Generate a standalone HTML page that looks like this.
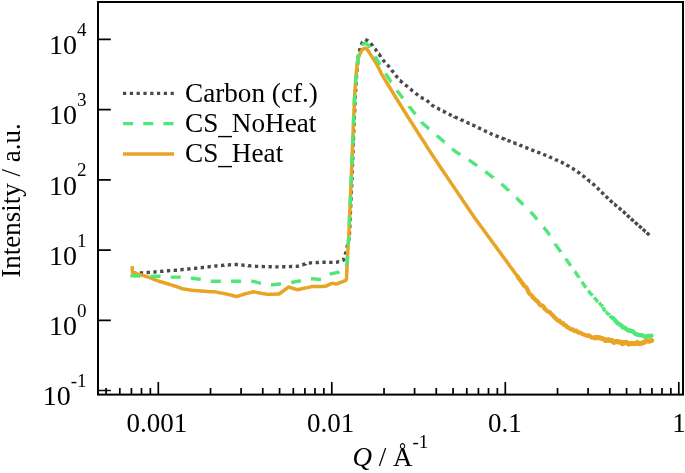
<!DOCTYPE html>
<html><head><meta charset="utf-8"><style>
html,body{margin:0;padding:0;background:#fff;width:685px;height:473px;overflow:hidden}
svg{display:block;will-change:transform}
text{font-family:"Liberation Serif", serif;fill:#000}
</style></head><body>
<svg width="685" height="473" viewBox="0 0 685 473">
<rect x="98" y="2" width="585" height="392.6" fill="none" stroke="#000" stroke-width="2.0"/>
<path d="M106.07 394.6V388.00 M119.81 394.6V388.00 M131.42 394.6V388.00 M141.49 394.6V388.00 M150.36 394.6V388.00 M158.30 394.6V382.00 M210.53 394.6V388.00 M241.08 394.6V388.00 M262.76 394.6V388.00 M279.57 394.6V388.00 M293.31 394.6V388.00 M304.92 394.6V388.00 M314.99 394.6V388.00 M323.86 394.6V388.00 M331.80 394.6V382.00 M384.03 394.6V388.00 M414.58 394.6V388.00 M436.26 394.6V388.00 M453.07 394.6V388.00 M466.81 394.6V388.00 M478.42 394.6V388.00 M488.49 394.6V388.00 M497.36 394.6V388.00 M505.30 394.6V382.00 M557.53 394.6V388.00 M588.08 394.6V388.00 M609.76 394.6V388.00 M626.57 394.6V388.00 M640.31 394.6V388.00 M651.92 394.6V388.00 M661.99 394.6V388.00 M670.86 394.6V388.00 M678.80 394.6V382.00 M98 390.50H110.80 M98 320.28H110.80 M98 250.06H110.80 M98 179.84H110.80 M98 109.62H110.80 M98 39.40H110.80" stroke="#000" stroke-width="1.7" fill="none"/>
<text x="86.5" y="405.3" text-anchor="end" font-size="28">10<tspan font-size="19" dy="-18.3">-1</tspan></text>
<text x="86.5" y="335.1" text-anchor="end" font-size="28">10<tspan font-size="19" dy="-18.3">0</tspan></text>
<text x="86.5" y="264.9" text-anchor="end" font-size="28">10<tspan font-size="19" dy="-18.3">1</tspan></text>
<text x="86.5" y="194.6" text-anchor="end" font-size="28">10<tspan font-size="19" dy="-18.3">2</tspan></text>
<text x="86.5" y="124.4" text-anchor="end" font-size="28">10<tspan font-size="19" dy="-18.3">3</tspan></text>
<text x="86.5" y="54.2" text-anchor="end" font-size="28">10<tspan font-size="19" dy="-18.3">4</tspan></text>
<text x="156.8" y="431.8" text-anchor="middle" font-size="27">0.001</text>
<text x="330.6" y="431.8" text-anchor="middle" font-size="27">0.01</text>
<text x="504.8" y="431.8" text-anchor="middle" font-size="27">0.1</text>
<text x="679.0" y="431.8" text-anchor="middle" font-size="27">1</text>
<text x="352.4" y="465.9" font-size="27"><tspan font-style="italic">Q</tspan> / Å<tspan font-size="19" dy="-18">-1</tspan></text>
<text transform="translate(20.3 277.8) rotate(-90)" x="0" y="0" font-size="27">Intensity / a.u.</text>
<path d="M123 93.4H174" stroke="#4a4a4a" stroke-width="3.2" stroke-dasharray="3.2 3.6"/>
<path d="M123 123.6H174" stroke="#4fe878" stroke-width="3.3" stroke-dasharray="10.1 10.1"/>
<path d="M123 154H174" stroke="#e8a424" stroke-width="3.5"/>
<text x="185" y="101.9" font-size="27.2">Carbon (cf.)</text>
<text x="185" y="131.7" font-size="27.2">CS<tspan dy="2.5">_</tspan><tspan dy="-2.5">NoHeat</tspan></text>
<text x="185" y="161.6" font-size="27.2">CS<tspan dy="2.5">_</tspan><tspan dy="-2.5">Heat</tspan></text>
<path d="M133.0 273.4 L133.1 273.4 L133.6 273.4 L134.1 273.3 L134.6 273.3 L135.1 273.3 L135.7 273.2 L136.2 273.2 L136.3 273.2 M139.8 273.0 L140.3 273.0 L140.8 273.0 L141.3 272.9 L141.8 272.9 L142.3 272.9 L142.8 272.8 L143.1 272.8 M146.6 272.6 L146.8 272.6 L147.3 272.5 L147.8 272.5 L148.3 272.4 L148.8 272.4 L149.3 272.4 L149.8 272.3 L149.9 272.3 M153.4 272.1 L153.8 272.1 L154.3 272.0 L154.8 272.0 L155.3 271.9 L155.8 271.9 L156.3 271.8 L156.6 271.8 M160.1 271.4 L160.4 271.4 L160.9 271.4 L161.4 271.3 L161.9 271.3 L162.4 271.2 L162.9 271.2 L163.4 271.1 L163.4 271.1 M166.9 270.8 L166.9 270.8 L167.4 270.8 L167.9 270.7 L168.4 270.7 L168.9 270.7 L169.4 270.6 L169.9 270.6 L170.2 270.6 M173.7 270.4 L173.9 270.4 L174.4 270.4 L174.9 270.3 L175.4 270.3 L175.9 270.2 L176.4 270.2 L176.9 270.1 L177.0 270.1 M180.4 269.8 L180.5 269.8 L181.0 269.7 L181.5 269.7 L182.0 269.6 L182.5 269.5 L183.0 269.5 L183.5 269.4 L183.7 269.4 M187.2 269.0 L187.5 269.0 L188.0 269.0 L188.5 268.9 L189.0 268.9 L189.5 268.8 L190.0 268.8 L190.5 268.7 M194.0 268.4 L194.0 268.4 L194.5 268.4 L195.0 268.3 L195.5 268.3 L196.0 268.2 L196.5 268.2 L197.0 268.1 L197.3 268.1 M200.7 267.7 L201.1 267.7 L201.6 267.7 L202.1 267.6 L202.6 267.5 L203.1 267.5 L203.6 267.4 L204.0 267.4 M207.5 266.9 L207.7 266.9 L208.2 266.8 L208.7 266.8 L209.2 266.7 L209.7 266.6 L210.2 266.6 L210.7 266.5 L210.8 266.5 M214.3 266.2 L214.3 266.2 L214.8 266.1 L215.3 266.1 L215.9 266.0 L216.4 266.0 L216.9 265.9 L217.4 265.9 L217.5 265.9 M221.0 265.5 L221.5 265.5 L222.0 265.4 L222.5 265.4 L223.0 265.3 L223.5 265.3 L224.0 265.3 L224.3 265.2 M227.8 265.0 L228.0 265.0 L228.5 264.9 L229.1 264.9 L229.6 264.9 L230.1 264.8 L230.6 264.8 L231.1 264.8 L231.1 264.8 M234.6 264.5 L234.6 264.5 L235.1 264.5 L235.6 264.4 L236.1 264.4 L236.6 264.5 L237.1 264.5 L237.6 264.6 L237.9 264.6 M241.3 265.0 L241.6 265.0 L242.1 265.1 L242.6 265.1 L243.1 265.2 L243.6 265.2 L244.1 265.3 L244.6 265.3 M248.1 265.6 L248.3 265.7 L248.8 265.7 L249.3 265.8 L249.8 265.8 L250.3 265.8 L250.8 265.9 L251.3 265.9 L251.4 265.9 M254.9 266.3 L255.0 266.3 L255.5 266.3 L256.0 266.4 L256.5 266.4 L257.0 266.4 L257.5 266.4 L258.0 266.4 L258.2 266.4 M261.7 266.5 L262.1 266.5 L262.6 266.5 L263.1 266.6 L263.6 266.6 L264.1 266.6 L264.6 266.6 L265.0 266.6 M268.5 266.7 L268.7 266.7 L269.2 266.7 L269.7 266.7 L270.2 266.7 L270.7 266.7 L271.2 266.8 L271.7 266.8 L271.8 266.8 M275.3 266.9 L275.8 266.9 L276.3 266.9 L276.8 266.9 L277.3 266.9 L277.8 266.9 L278.3 266.9 L278.6 266.9 M282.1 266.8 L282.4 266.8 L282.9 266.8 L283.4 266.7 L283.9 266.7 L284.4 266.7 L284.9 266.7 L285.4 266.7 M288.9 266.6 L289.0 266.6 L289.5 266.6 L290.0 266.6 L290.5 266.6 L291.0 266.5 L291.5 266.5 L292.0 266.5 L292.2 266.5 M295.7 266.4 L296.1 266.4 L296.6 266.4 L297.1 266.3 L297.6 266.1 L298.1 266.0 L298.6 265.9 L298.9 265.8 M302.3 264.8 L302.5 264.8 L302.9 264.6 L303.4 264.5 L303.9 264.4 L304.4 264.2 L304.9 264.1 L305.4 264.0 L305.4 263.9 M308.8 263.0 L309.3 263.0 L309.8 262.9 L310.3 262.9 L310.8 262.9 L311.3 262.9 L311.8 262.8 L312.1 262.8 M315.6 262.6 L315.9 262.6 L316.4 262.6 L316.9 262.5 L317.4 262.5 L317.9 262.5 L318.4 262.5 L318.9 262.4 L318.9 262.4 M322.4 262.2 L322.4 262.2 L322.9 262.2 L323.4 262.2 L323.9 262.2 L324.4 262.2 L324.9 262.2 L325.4 262.3 L325.7 262.3 M329.2 262.4 L329.5 262.4 L330.0 262.4 L330.5 262.4 L331.0 262.4 L331.5 262.4 L332.1 262.4 L332.5 262.4 M336.0 262.3 L336.1 262.3 L336.6 262.2 L337.1 262.1 L337.6 262.0 L338.1 261.9 L338.5 261.8 L339.0 261.7 L339.2 261.7 M342.5 260.5 L342.5 260.5 L343.0 260.3 L343.5 260.0 L343.7 259.5 L343.8 259.0 L344.0 258.5 L344.2 258.0 L344.2 258.0 M345.3 254.6 L345.3 254.5 L345.4 254.0 L345.6 253.5 L345.7 253.0 L345.8 252.5 L345.9 252.0 L346.0 251.5 L346.0 251.4 M346.8 248.0 L346.8 248.0 L347.0 247.5 L347.1 247.0 L347.2 246.5 L347.3 246.0 L347.4 245.5 L347.5 245.0 L347.6 244.8 M348.4 241.4 L348.5 241.0 L348.6 240.5 L348.7 240.0 L348.8 239.5 L348.9 239.0 L349.1 238.5 L349.1 238.2 M349.4 234.7 L349.4 234.5 L349.5 234.0 L349.5 233.5 L349.5 233.0 L349.5 232.5 L349.5 232.0 L349.6 231.5 L349.6 231.4 M349.7 227.9 L349.8 227.5 L349.8 227.0 L349.8 226.5 L349.8 226.0 L349.8 225.5 L349.9 225.0 L349.9 224.6 M350.0 221.1 L350.0 221.0 L350.1 220.5 L350.1 220.0 L350.1 219.5 L350.1 219.0 L350.2 218.5 L350.2 218.0 L350.2 217.8 M350.3 214.3 L350.4 214.0 L350.4 213.5 L350.4 213.0 L350.4 212.5 L350.4 212.0 L350.5 211.5 L350.5 211.0 M350.6 207.5 L350.6 207.5 L350.7 207.0 L350.7 206.5 L350.7 206.0 L350.7 205.5 L350.8 205.0 L350.8 204.5 L350.8 204.2 M351.0 200.8 L351.0 200.5 L351.0 200.0 L351.0 199.5 L351.0 199.0 L351.1 198.5 L351.1 198.0 L351.1 197.5 L351.1 197.5 M351.3 194.0 L351.3 193.5 L351.3 193.0 L351.3 192.5 L351.3 192.0 L351.4 191.5 L351.4 191.0 L351.4 190.7 M351.6 187.2 L351.6 187.0 L351.6 186.5 L351.6 186.0 L351.6 185.5 L351.7 185.0 L351.7 184.5 L351.7 184.0 L351.7 183.9 M351.9 180.4 L351.9 180.0 L351.9 179.5 L351.9 179.0 L352.0 178.5 L352.0 178.0 L352.0 177.5 L352.0 177.1 M352.2 173.6 L352.2 173.5 L352.2 173.0 L352.2 172.5 L352.2 172.0 L352.2 171.5 L352.2 171.0 L352.3 170.5 L352.3 170.3 M352.4 166.8 L352.4 166.5 L352.4 166.0 L352.5 165.5 L352.5 165.0 L352.5 164.5 L352.5 164.0 L352.5 163.5 L352.5 163.5 M352.7 160.0 L352.7 159.5 L352.7 159.0 L352.7 158.5 L352.7 158.0 L352.8 157.5 L352.8 157.0 L352.8 156.7 M352.9 153.2 L352.9 153.0 L353.0 152.5 L353.0 152.0 L353.0 151.5 L353.0 151.0 L353.0 150.5 L353.1 150.0 L353.1 149.9 M353.2 146.4 L353.2 146.0 L353.2 145.5 L353.2 145.0 L353.3 144.5 L353.3 144.0 L353.3 143.5 L353.3 143.1 M353.4 139.6 L353.5 139.5 L353.5 139.0 L353.5 138.5 L353.5 138.0 L353.5 137.5 L353.5 137.0 L353.6 136.5 L353.6 136.3 M353.7 132.8 L353.7 132.5 L353.7 132.0 L353.8 131.5 L353.8 131.0 L353.8 130.5 L353.8 130.0 L353.8 129.5 M354.0 126.0 L354.0 126.0 L354.0 125.5 L354.0 125.0 L354.0 124.5 L354.0 124.0 L354.1 123.5 L354.1 123.0 L354.1 122.7 M354.2 119.2 L354.2 119.0 L354.3 118.5 L354.3 118.0 L354.3 117.5 L354.3 117.0 L354.4 116.5 L354.4 116.0 L354.4 115.9 M354.6 112.4 L354.6 112.0 L354.6 111.5 L354.6 111.0 L354.6 110.5 L354.7 110.0 L354.7 109.5 L354.7 109.1 M354.9 105.6 L354.9 105.5 L354.9 105.0 L354.9 104.5 L354.9 104.0 L355.0 103.5 L355.0 103.0 L355.0 102.5 L355.0 102.3 M355.2 98.8 L355.2 98.5 L355.2 98.0 L355.2 97.5 L355.3 97.0 L355.3 96.5 L355.3 96.0 L355.3 95.5 M355.5 92.0 L355.5 92.0 L355.5 91.5 L355.6 91.0 L355.6 90.5 L355.6 90.0 L355.6 89.5 L355.7 89.0 L355.7 88.8 M355.9 85.3 L356.0 85.0 L356.0 84.5 L356.0 84.0 L356.1 83.5 L356.1 83.0 L356.1 82.5 L356.2 82.0 L356.2 82.0 M356.4 78.5 L356.4 78.0 L356.5 77.5 L356.5 77.0 L356.5 76.5 L356.6 76.0 L356.6 75.5 L356.6 75.2 M356.9 71.7 L356.9 71.5 L356.9 71.0 L357.0 70.5 L357.0 70.0 L357.1 69.5 L357.1 69.0 L357.1 68.5 L357.2 68.4 M357.5 64.9 L357.6 64.5 L357.6 64.0 L357.6 63.5 L357.7 63.0 L357.8 62.5 L357.8 62.0 L357.8 61.6 M358.2 58.2 L358.2 58.0 L358.2 57.5 L358.3 57.0 L358.3 56.5 L358.4 56.0 L358.5 55.5 L358.6 55.0 L358.6 54.9 M359.4 51.5 L359.5 51.0 L359.6 50.5 L359.7 50.0 L359.8 49.5 L359.9 49.0 L360.1 48.5 L360.1 48.3 M361.2 44.9 L361.4 44.5 L361.6 44.0 L361.8 43.5 L362.1 43.0 L362.3 42.5 L362.5 42.0 L362.6 41.9 M365.1 39.6 L365.6 39.8 L366.1 40.0 L366.6 40.2 L367.0 40.4 L367.5 40.6 L368.0 40.8 L368.1 40.9 M370.7 43.3 L371.0 43.7 L371.3 44.1 L371.6 44.5 L371.9 44.9 L372.3 45.3 L372.6 45.7 L372.7 45.9 M374.9 48.7 L375.1 48.9 L375.4 49.3 L375.7 49.7 L376.0 50.1 L376.3 50.5 L376.6 50.9 L376.9 51.3 M379.0 54.1 L379.1 54.1 L379.3 54.5 L379.6 55.0 L379.9 55.4 L380.1 55.8 L380.4 56.2 L380.7 56.7 L380.8 56.9 M382.8 59.7 L383.0 60.0 L383.3 60.4 L383.7 60.8 L384.0 61.2 L384.4 61.5 L384.7 61.9 L385.0 62.2 M387.3 64.8 L387.5 65.0 L387.8 65.4 L388.2 65.8 L388.5 66.2 L388.9 66.6 L389.2 67.0 L389.4 67.3 M391.6 70.0 L391.7 70.2 L392.0 70.6 L392.3 71.0 L392.6 71.3 L392.9 71.7 L393.2 72.1 L393.5 72.5 L393.6 72.6 M395.7 75.3 L396.0 75.7 L396.4 76.1 L396.7 76.6 L397.0 77.0 L397.3 77.4 L397.7 77.8 L397.8 77.9 M399.9 80.6 L400.0 80.6 L400.4 80.9 L400.8 81.3 L401.2 81.6 L401.6 81.9 L402.0 82.2 L402.3 82.5 L402.5 82.7 M405.1 84.8 L405.5 85.1 L405.9 85.4 L406.3 85.7 L406.7 86.0 L407.1 86.4 L407.5 86.7 L407.7 86.9 M410.3 89.0 L410.6 89.2 L411.0 89.6 L411.4 89.9 L411.8 90.3 L412.2 90.6 L412.6 90.9 L412.9 91.1 M415.5 93.3 L415.5 93.3 L415.9 93.6 L416.3 93.9 L416.7 94.2 L417.1 94.5 L417.5 94.8 L417.9 95.1 L418.1 95.3 M420.7 97.3 L421.2 97.5 L421.6 97.7 L422.1 98.0 L422.6 98.2 L423.1 98.4 L423.5 98.6 L423.8 98.7 M426.7 100.2 L426.8 100.3 L427.2 100.6 L427.6 101.0 L427.9 101.4 L428.3 101.7 L428.7 102.1 L429.1 102.5 M431.5 104.7 L431.8 105.0 L432.2 105.4 L432.7 105.7 L433.1 105.9 L433.6 106.2 L434.1 106.4 L434.2 106.5 M437.1 108.1 L437.4 108.2 L437.9 108.5 L438.4 108.7 L438.8 109.0 L439.3 109.2 L439.8 109.5 L440.1 109.6 M443.0 111.1 L443.1 111.1 L443.5 111.4 L444.0 111.6 L444.5 111.8 L444.9 112.1 L445.4 112.3 L445.9 112.6 M448.8 114.1 L449.2 114.3 L449.7 114.6 L450.2 114.8 L450.6 115.0 L451.1 115.2 L451.5 115.4 L451.7 115.5 M454.7 116.8 L454.7 116.9 L455.2 117.1 L455.7 117.3 L456.1 117.5 L456.6 117.7 L457.0 117.9 L457.5 118.1 L457.7 118.2 M460.6 119.5 L460.7 119.6 L461.2 119.8 L461.6 120.0 L462.1 120.2 L462.5 120.4 L463.0 120.6 L463.4 120.8 L463.6 120.9 M466.5 122.2 L466.7 122.3 L467.1 122.5 L467.6 122.7 L468.0 122.9 L468.5 123.1 L468.9 123.3 L469.4 123.5 L469.5 123.5 M472.3 124.9 L472.7 125.0 L473.1 125.3 L473.6 125.5 L474.1 125.7 L474.5 125.9 L475.0 126.1 L475.3 126.3 M478.1 127.6 L478.3 127.7 L478.7 127.9 L479.2 128.1 L479.7 128.3 L480.1 128.5 L480.6 128.8 L481.1 129.0 L481.1 129.0 M483.9 130.4 L484.3 130.6 L484.8 130.8 L485.2 131.0 L485.7 131.2 L486.2 131.5 L486.6 131.7 L486.9 131.8 M489.7 133.2 L489.9 133.3 L490.3 133.5 L490.8 133.7 L491.3 134.0 L491.7 134.2 L492.2 134.4 L492.6 134.6 M495.5 135.7 L496.0 135.9 L496.5 136.0 L496.9 136.2 L497.4 136.4 L497.9 136.6 L498.4 136.8 L498.6 136.9 M501.5 138.0 L501.7 138.1 L502.2 138.2 L502.6 138.4 L503.1 138.6 L503.6 138.8 L504.1 139.0 L504.6 139.1 L504.6 139.2 M507.5 140.3 L507.9 140.4 L508.3 140.6 L508.8 140.8 L509.3 141.0 L509.8 141.2 L510.2 141.3 L510.6 141.5 M513.4 142.6 L513.5 142.6 L514.0 142.8 L514.5 143.0 L514.9 143.2 L515.4 143.4 L515.9 143.6 L516.3 143.8 L516.5 143.8 M519.4 145.0 L519.6 145.1 L520.1 145.3 L520.5 145.4 L521.0 145.6 L521.5 145.8 L521.9 146.0 L522.4 146.2 L522.4 146.2 M525.3 147.4 L525.7 147.5 L526.1 147.7 L526.6 147.9 L527.1 148.1 L527.5 148.3 L528.0 148.4 L528.4 148.6 M531.3 149.7 L531.3 149.7 L531.8 149.9 L532.2 150.1 L532.7 150.3 L533.2 150.5 L533.7 150.6 L534.1 150.8 L534.4 150.9 M537.2 152.0 L537.5 152.1 L537.9 152.3 L538.4 152.5 L538.9 152.7 L539.4 152.8 L539.9 153.0 L540.3 153.2 L540.3 153.2 M543.2 154.3 L543.6 154.5 L544.1 154.7 L544.6 154.8 L545.1 155.0 L545.5 155.2 L546.0 155.4 L546.3 155.5 M549.2 156.7 L549.3 156.8 L549.8 157.0 L550.3 157.2 L550.7 157.4 L551.2 157.7 L551.7 157.9 L552.1 158.1 L552.1 158.1 M555.0 159.4 L555.4 159.6 L555.9 159.8 L556.4 160.0 L556.9 160.2 L557.3 160.4 L557.8 160.6 L558.0 160.7 M560.8 162.0 L561.1 162.1 L561.6 162.4 L562.1 162.6 L562.5 162.9 L563.0 163.1 L563.5 163.3 L563.8 163.5 M566.5 164.9 L566.7 165.1 L567.2 165.3 L567.6 165.6 L568.0 165.8 L568.5 166.1 L568.9 166.3 L569.3 166.6 M572.0 168.2 L572.4 168.4 L572.9 168.7 L573.3 169.0 L573.8 169.2 L574.2 169.5 L574.6 169.8 L574.8 169.9 M577.4 171.6 L577.7 171.8 L578.1 172.2 L578.6 172.5 L579.0 172.8 L579.4 173.1 L579.9 173.4 L580.1 173.6 M582.5 175.4 L582.8 175.6 L583.2 176.0 L583.6 176.3 L584.0 176.6 L584.4 176.9 L584.8 177.2 L585.1 177.5 M587.5 179.4 L587.6 179.5 L588.0 179.8 L588.4 180.2 L588.8 180.5 L589.2 180.8 L589.6 181.1 L590.0 181.5 L590.1 181.5 M592.4 183.5 L592.8 183.8 L593.2 184.2 L593.6 184.5 L594.0 184.8 L594.4 185.2 L594.8 185.5 L595.0 185.7 M597.1 187.7 L597.4 188.0 L597.8 188.4 L598.1 188.7 L598.5 189.1 L598.9 189.5 L599.2 189.8 L599.4 190.0 M601.4 192.0 L601.8 192.4 L602.1 192.7 L602.5 193.1 L602.8 193.4 L603.2 193.8 L603.6 194.2 L603.8 194.4 M605.7 196.2 L605.8 196.3 L606.2 196.6 L606.5 197.0 L606.9 197.3 L607.3 197.7 L607.6 198.0 L608.0 198.4 L608.1 198.5 M610.0 200.2 L610.3 200.5 L610.6 200.8 L611.0 201.2 L611.4 201.5 L611.7 201.9 L612.1 202.2 L612.5 202.6 M614.3 204.2 L614.4 204.2 L614.8 204.5 L615.1 204.9 L615.5 205.2 L615.9 205.5 L616.3 205.8 L616.7 206.1 L616.9 206.3 M618.7 207.8 L619.0 208.0 L619.4 208.3 L619.8 208.7 L620.2 209.0 L620.6 209.3 L621.0 209.6 L621.4 209.9 L621.4 209.9 M623.0 211.3 L623.3 211.5 L623.6 211.9 L624.0 212.2 L624.4 212.6 L624.8 212.9 L625.1 213.3 L625.5 213.6 L625.6 213.7 M627.1 215.1 L627.4 215.4 L627.7 215.7 L628.1 216.1 L628.5 216.4 L628.9 216.8 L629.2 217.1 L629.6 217.5 L629.6 217.5 M631.0 218.8 L631.1 218.9 L631.5 219.2 L631.8 219.6 L632.2 219.9 L632.6 220.2 L633.0 220.6 L633.4 220.9 L633.6 221.1 M635.0 222.3 L635.3 222.6 L635.7 222.9 L636.1 223.3 L636.5 223.6 L636.9 223.9 L637.2 224.3 L637.6 224.6 L637.7 224.7 M638.9 225.8 L639.2 226.0 L639.6 226.3 L640.0 226.7 L640.3 227.0 L640.7 227.3 L641.1 227.7 L641.5 228.0 L641.6 228.1 M642.8 229.2 L643.0 229.4 L643.4 229.7 L643.8 230.1 L644.2 230.4 L644.6 230.8 L644.9 231.1 L645.3 231.5 L645.5 231.6 M646.7 232.7 L646.8 232.8 L647.2 233.2 L647.6 233.5 L648.0 233.9 L648.4 234.2 L648.8 234.6 L649.1 234.9 L649.3 235.1" fill="none" stroke="#4a4a4a" stroke-width="3.4" stroke-linejoin="round"/>
<path d="M132.2 266.2 L132.3 268.2 L132.3 270.3 L132.4 272.3 L134.0 272.8 L135.6 273.3 L137.2 273.8 L138.8 274.3 L140.4 274.8 L142.0 275.2 L143.6 275.7 L145.2 276.2 L146.8 276.7 L148.4 277.2 L150.0 277.7 L151.8 278.4 L153.5 279.1 L155.3 279.8 L157.0 280.5 L158.8 281.2 L160.5 281.7 L162.3 282.2 L164.0 282.8 L165.8 283.3 L167.5 283.8 L169.3 284.3 L171.0 284.9 L172.8 285.4 L174.5 286.0 L176.3 286.5 L178.2 287.1 L180.0 287.8 L181.8 288.5 L183.7 289.1 L185.4 289.3 L187.1 289.5 L188.8 289.8 L190.4 290.0 L192.1 290.2 L193.8 290.4 L195.4 290.5 L197.0 290.7 L198.7 290.8 L200.3 290.9 L201.9 291.0 L203.5 291.2 L205.1 291.3 L206.8 291.4 L208.4 291.6 L210.0 291.7 L211.7 291.7 L213.3 291.8 L215.0 291.8 L216.7 292.1 L218.3 292.5 L220.0 292.8 L221.7 293.1 L223.4 293.4 L225.0 293.8 L226.7 294.1 L228.3 294.5 L230.0 294.9 L231.6 295.3 L233.3 295.7 L234.9 296.1 L236.6 296.5 L238.4 296.0 L240.1 295.4 L241.9 294.9 L243.6 294.3 L245.4 293.8 L247.0 293.4 L248.7 293.0 L250.3 292.6 L252.0 292.2 L253.6 291.8 L255.2 292.1 L256.8 292.4 L258.4 292.7 L260.0 293.0 L261.9 293.4 L263.9 293.7 L265.8 294.0 L267.7 294.4 L269.3 294.3 L270.9 294.3 L272.5 294.2 L274.2 294.2 L275.8 294.1 L277.4 294.1 L279.0 294.0 L280.4 293.0 L281.8 292.0 L283.2 291.0 L284.5 290.0 L285.9 289.0 L287.3 288.0 L288.7 287.0 L290.4 287.5 L292.2 288.1 L293.9 288.6 L295.7 289.2 L297.4 289.7 L299.1 289.3 L300.7 289.0 L302.4 288.6 L304.0 288.3 L305.7 287.9 L307.3 287.6 L309.0 287.2 L310.6 286.9 L312.3 286.5 L313.9 286.5 L315.6 286.4 L317.2 286.4 L318.9 286.4 L320.6 286.4 L322.2 286.4 L323.9 286.3 L325.5 286.3 L327.0 285.6 L328.6 284.9 L330.1 284.2 L331.6 283.5 L333.4 283.6 L335.1 283.8 L336.9 283.9 L338.6 283.2 L340.4 282.5 L342.1 281.9 L343.9 281.2 L345.6 280.5 L346.5 279.0 L346.6 277.3 L346.6 275.5 L346.7 273.8 L346.8 272.1 L346.9 270.4 L346.9 268.6 L347.0 266.9 L347.1 265.2 L347.2 263.5 L347.2 261.7 L347.3 260.0 L347.4 258.4 L347.5 256.8 L347.6 255.2 L347.7 253.6 L347.8 252.0 L347.9 250.4 L348.0 248.8 L348.1 247.1 L348.2 245.5 L348.3 243.9 L348.4 242.3 L348.5 240.7 L348.6 239.1 L348.7 237.5 L348.8 235.9 L348.8 234.3 L348.9 232.6 L349.0 231.0 L349.1 229.4 L349.1 227.8 L349.2 226.1 L349.3 224.5 L349.3 222.9 L349.4 221.3 L349.5 219.7 L349.5 218.0 L349.6 216.4 L349.7 214.8 L349.8 213.2 L349.8 211.6 L349.9 209.9 L350.0 208.3 L350.0 206.7 L350.1 205.1 L350.2 203.4 L350.2 201.8 L350.3 200.2 L350.4 198.6 L350.5 197.0 L350.5 195.3 L350.6 193.7 L350.7 192.1 L350.7 190.5 L350.8 188.9 L350.9 187.2 L350.9 185.6 L351.0 184.0 L351.1 182.4 L351.2 180.7 L351.2 179.1 L351.3 177.5 L351.4 175.9 L351.4 174.2 L351.5 172.6 L351.6 170.9 L351.6 169.3 L351.7 167.6 L351.8 166.0 L351.8 164.4 L351.9 162.7 L352.0 161.1 L352.0 159.4 L352.1 157.8 L352.1 156.2 L352.2 154.5 L352.3 152.9 L352.3 151.2 L352.4 149.6 L352.5 147.9 L352.5 146.3 L352.6 144.7 L352.7 143.0 L352.7 141.4 L352.8 139.7 L352.9 138.1 L352.9 136.4 L353.0 134.8 L353.1 133.2 L353.1 131.5 L353.2 129.9 L353.3 128.2 L353.3 126.6 L353.4 124.9 L353.5 123.3 L353.5 121.6 L353.6 120.0 L353.7 118.4 L353.7 116.7 L353.8 115.1 L353.9 113.4 L354.0 111.8 L354.0 110.1 L354.1 108.5 L354.2 106.8 L354.2 105.2 L354.3 103.5 L354.4 101.9 L354.4 100.2 L354.5 98.6 L354.6 96.9 L354.7 95.3 L354.7 93.6 L354.8 92.0 L354.9 90.3 L355.1 88.7 L355.2 87.0 L355.3 85.3 L355.5 83.7 L355.6 82.0 L355.7 80.3 L355.9 78.7 L356.0 77.0 L356.1 75.3 L356.3 73.6 L356.4 71.9 L356.6 70.2 L356.7 68.5 L356.9 66.8 L357.0 65.1 L357.4 63.2 L357.8 61.4 L358.1 59.5 L358.5 57.7 L359.2 55.7 L360.0 53.8 L360.7 51.8 L361.8 50.5 L362.8 49.2 L364.6 48.2 L366.0 48.3 L367.1 49.5 L368.2 50.8 L369.1 52.2 L370.0 53.6 L370.9 55.1 L371.8 56.5 L372.7 57.9 L373.6 59.3 L374.5 60.7 L375.3 62.1 L376.2 63.5 L377.1 64.9 L377.9 66.6 L378.7 68.2 L379.6 69.8 L380.4 71.5 L381.2 73.2 L382.0 74.8 L382.8 76.2 L383.7 77.6 L384.5 79.0 L385.4 80.4 L386.2 81.8 L387.1 83.2 L387.9 84.5 L388.8 85.9 L389.6 87.3 L390.5 88.7 L391.3 90.1 L392.2 91.5 L393.0 92.9 L393.9 94.3 L394.8 95.8 L395.7 97.2 L396.5 98.6 L397.4 100.0 L398.3 101.5 L399.2 102.9 L400.1 104.3 L401.0 105.8 L401.9 107.2 L402.7 108.6 L403.6 110.0 L404.5 111.5 L405.4 112.9 L406.3 114.3 L407.2 115.8 L408.1 117.2 L409.0 118.6 L409.9 120.0 L410.8 121.5 L411.8 122.9 L412.7 124.3 L413.6 125.8 L414.5 127.2 L415.4 128.6 L416.3 130.0 L417.2 131.5 L418.1 132.9 L419.0 134.3 L419.9 135.7 L420.8 137.1 L421.7 138.5 L422.6 139.8 L423.5 141.2 L424.4 142.6 L425.3 144.0 L426.1 145.4 L427.0 146.8 L427.9 148.2 L428.8 149.6 L429.7 151.0 L430.6 152.3 L431.5 153.7 L432.4 155.1 L433.3 156.5 L434.2 157.9 L435.1 159.3 L436.0 160.6 L437.0 162.0 L437.9 163.4 L438.8 164.7 L439.7 166.1 L440.6 167.4 L441.5 168.8 L442.5 170.2 L443.4 171.5 L444.3 172.9 L445.2 174.3 L446.1 175.6 L447.1 177.0 L448.0 178.4 L448.9 179.7 L449.8 181.1 L450.7 182.4 L451.6 183.8 L452.6 185.2 L453.5 186.5 L454.4 187.9 L455.3 189.3 L456.2 190.6 L457.2 192.0 L458.1 193.4 L459.0 194.7 L459.9 196.1 L460.9 197.4 L461.8 198.8 L462.7 200.2 L463.6 201.5 L464.5 202.9 L465.5 204.3 L466.4 205.6 L467.3 207.0 L468.2 208.4 L469.2 209.7 L470.1 211.1 L471.0 212.4 L471.9 213.8 L472.9 215.2 L473.8 216.5 L474.7 217.9 L475.7 219.2 L476.6 220.5 L477.6 221.8 L478.5 223.1 L479.5 224.4 L480.4 225.7 L481.4 227.0 L482.4 228.3 L483.3 229.6 L484.3 230.9 L485.2 232.2 L486.2 233.6 L487.1 234.9 L488.1 236.2 L489.0 237.5 L490.0 238.8 L491.0 240.1 L491.9 241.4 L492.9 242.7 L493.8 244.0 L494.8 245.3 L495.7 246.6 L496.7 247.9 L497.7 249.2 L498.6 250.5 L499.6 251.8 L500.5 253.1 L501.5 254.4 L502.4 255.7 L503.4 257.0 L504.3 258.3 L505.3 259.6 L506.2 260.9 L507.2 262.2 L508.1 263.6 L509.1 264.9 L510.0 266.2 L511.0 267.5 L511.9 268.8 L512.9 270.1 L513.8 271.4 L514.8 272.7 L515.7 274.0 L516.7 275.2 L517.7 276.6 L518.5 277.9 L519.5 279.3" fill="none" stroke="#e8a424" stroke-width="3.5" stroke-linejoin="round"/>
<path d="M517.7 276.6 L518.5 277.9 L519.5 279.3 L520.6 280.5 L521.7 282.5 L522.7 283.4 L524.0 285.6 L525.0 286.4 L526.3 287.4 L527.3 289.2 L527.8 290.3 L528.9 292.9 L529.8 294.0 L531.2 295.1 L532.1 296.0 L532.9 297.3 L534.7 298.8 L535.6 300.2 L536.9 300.8 L538.4 302.7 L539.1 303.6 L540.5 305.3 L541.9 305.4 L543.5 306.3 L544.4 308.6 L545.5 309.3 L546.8 310.8 L548.8 311.8 L550.2 312.5 L551.4 314.1 L552.6 315.1 L554.2 317.1 L555.2 317.8 L556.1 319.0 L558.0 320.7 L559.5 320.6 L560.4 322.2 L561.4 322.8 L562.9 323.1 L564.1 325.1 L565.5 325.1 L567.1 327.2 L568.1 327.3 L570.0 328.8 L571.8 329.6 L572.8 329.5 L574.4 331.1 L576.4 330.6 L577.2 331.5 L578.8 332.7 L580.8 332.9 L581.9 333.7 L583.9 334.6 L586.1 335.4 L587.4 335.8 L589.2 335.4 L591.1 337.3 L592.7 337.7 L593.9 337.3 L595.4 338.0 L597.0 337.3 L598.8 337.8 L600.6 338.0 L602.0 338.5 L603.9 339.3 L605.8 340.6 L608.2 339.7 L609.8 340.5 L611.7 340.5 L614.0 342.4 L615.5 341.8 L617.0 341.5 L619.0 342.1 L621.3 342.3 L622.4 343.8 L624.7 342.4 L626.5 342.3 L628.3 344.1 L630.4 343.7 L631.7 343.2 L633.4 343.7 L635.6 343.6 L637.2 342.5 L639.4 343.7 L641.3 343.2 L643.1 342.9 L644.3 342.1 L646.2 340.9 L647.7 340.9 L649.6 341.2 L651.6 340.5" fill="none" stroke="#e8a424" stroke-width="4.3" stroke-linejoin="round" stroke-linecap="round"/>
<path d="M595.4 338.0 L597.0 337.3 L598.8 337.8 L600.6 338.0 L602.0 338.5 L603.9 339.3 L605.8 340.6 L608.2 339.7 L609.8 340.5 L611.7 340.5 L614.0 342.4 L615.5 341.8 L617.0 341.5 L619.0 342.1 L621.3 342.3 L622.4 343.8 L624.7 342.4 L626.5 342.3 L628.3 344.1 L630.4 343.7 L631.7 343.2 L633.4 343.7 L635.6 343.6 L637.2 342.5 L639.4 343.7 L641.3 343.2 L643.1 342.9 L644.3 342.1 L646.2 340.9 L647.7 340.9 L649.6 341.2 L651.6 340.5" fill="none" stroke="#e8a424" stroke-width="5.0" stroke-linejoin="round" stroke-linecap="round"/>
<path d="M130.3 275.9 L130.9 275.9 L131.4 275.9 L132.0 275.9 L132.6 275.9 L133.2 275.9 L133.7 275.9 L134.3 276.0 L134.9 276.0 L135.5 276.0 L136.0 276.0 L136.6 276.0 L137.2 276.0 L137.7 276.0 L138.3 276.0 L138.9 276.0 L139.5 276.0 L140.0 276.0 L140.4 276.0 M150.5 276.2 L150.9 276.2 L151.5 276.2 L152.1 276.2 L152.7 276.2 L153.4 276.2 L154.0 276.2 L154.6 276.2 L155.2 276.2 L155.8 276.2 L156.4 276.2 L157.0 276.2 L157.6 276.2 L158.3 276.2 L158.9 276.2 L159.5 276.2 L160.1 276.2 L160.6 276.2 M170.7 277.1 L171.0 277.1 L171.6 277.1 L172.3 277.1 L172.9 277.1 L173.6 277.1 L174.2 277.1 L174.8 277.1 L175.5 277.1 L176.1 277.1 L176.8 277.1 L177.4 277.1 L178.0 277.1 L178.7 277.1 L179.3 277.1 L180.0 277.1 L180.6 277.1 L180.8 277.1 M190.8 278.1 L191.2 278.1 L191.7 278.2 L192.3 278.2 L192.8 278.3 L193.3 278.4 L193.9 278.5 L194.4 278.5 L194.9 278.6 L195.5 278.7 L196.0 278.8 L196.5 278.8 L197.1 278.9 L197.6 279.0 L198.1 279.0 L198.7 279.1 L199.2 279.2 L199.7 279.3 L200.3 279.3 L200.8 279.4 L200.8 279.4 M210.8 281.2 L210.9 281.2 L211.5 281.3 L212.1 281.3 L212.8 281.3 L213.4 281.3 L214.0 281.3 L214.6 281.3 L215.3 281.3 L215.9 281.3 L216.5 281.3 L217.1 281.3 L217.8 281.3 L218.4 281.3 L219.0 281.3 L219.6 281.3 L220.3 281.3 L220.9 281.3 M231.0 281.2 L231.4 281.2 L232.0 281.2 L232.6 281.2 L233.3 281.2 L233.9 281.2 L234.5 281.2 L235.1 281.2 L235.7 281.2 L236.4 281.3 L237.0 281.3 L237.6 281.3 L238.2 281.3 L238.8 281.3 L239.5 281.3 L240.1 281.3 L240.7 281.3 L241.1 281.3 M251.2 281.3 L251.6 281.3 L252.2 281.3 L252.8 281.3 L253.3 281.4 L253.9 281.6 L254.4 281.7 L254.9 281.8 L255.4 281.9 L256.0 282.1 L256.5 282.2 L257.0 282.3 L257.5 282.4 L258.1 282.6 L258.6 282.7 L259.1 282.8 L259.6 282.9 L260.2 283.1 L260.7 283.2 L261.0 283.2 M271.0 284.7 L271.5 284.7 L272.0 284.8 L272.6 284.7 L273.2 284.7 L273.8 284.6 L274.3 284.6 L274.9 284.5 L275.5 284.4 L276.1 284.4 L276.7 284.3 L277.3 284.3 L277.9 284.2 L278.5 284.1 L279.0 284.1 L279.6 284.0 L280.2 284.0 L280.8 283.9 L281.1 283.9 M291.1 282.5 L291.1 282.5 L291.7 282.4 L292.2 282.3 L292.8 282.2 L293.5 282.1 L294.1 281.9 L294.8 281.8 L295.4 281.7 L296.1 281.6 L296.8 281.5 L297.4 281.4 L298.1 281.2 L298.7 281.1 L299.4 281.0 L300.0 280.9 L300.6 280.8 L301.0 280.7 M311.0 279.0 L311.1 279.0 L311.7 278.9 L312.3 278.8 L312.9 278.8 L313.5 278.9 L314.1 278.9 L314.6 279.0 L315.2 279.0 L315.8 279.1 L316.4 279.1 L317.0 279.2 L317.6 279.2 L318.2 279.3 L318.8 279.3 L319.3 279.4 L319.9 279.4 L320.5 279.5 L321.0 279.5 M329.8 274.4 L330.2 274.2 L330.7 273.9 L331.2 273.8 L331.8 273.7 L332.3 273.6 L332.8 273.4 L333.3 273.3 L333.9 273.2 L334.4 273.1 L334.9 273.0 L335.4 272.9 L336.0 272.8 L336.5 272.7 L337.0 272.5 L337.5 272.4 L338.1 272.3 L338.6 272.2 L339.2 272.0 L339.5 271.9 M346.4 266.1 L346.4 266.0 L346.5 265.5 L346.5 265.0 L346.6 264.5 L346.7 264.0 L346.8 263.5 L346.9 263.0 L346.9 262.5 L347.0 262.0 L347.1 261.5 L347.1 261.0 L347.2 260.5 L347.3 260.0 L347.3 259.5 L347.4 258.9 L347.4 258.4 L347.4 257.9 L347.5 257.3 L347.5 256.8 L347.5 256.2 L347.5 256.0 M348.2 246.0 L348.2 245.5 L348.2 245.0 L348.3 244.5 L348.3 243.9 L348.3 243.4 L348.4 242.9 L348.4 242.3 L348.4 241.8 L348.5 241.2 L348.5 240.7 L348.5 240.2 L348.6 239.6 L348.6 239.1 L348.6 238.6 L348.7 238.0 L348.7 237.5 L348.7 237.0 L348.7 236.4 L348.8 235.9 L348.8 235.9 M349.2 225.8 L349.2 225.6 L349.2 225.1 L349.3 224.5 L349.3 224.0 L349.3 223.4 L349.3 222.9 L349.4 222.4 L349.4 221.8 L349.4 221.3 L349.4 220.7 L349.4 220.2 L349.5 219.7 L349.5 219.1 L349.5 218.6 L349.5 218.0 L349.6 217.5 L349.6 217.0 L349.6 216.4 L349.6 215.9 L349.6 215.7 M350.1 205.6 L350.1 205.1 L350.1 204.5 L350.2 204.0 L350.2 203.4 L350.2 202.9 L350.2 202.4 L350.2 201.8 L350.3 201.3 L350.3 200.7 L350.3 200.2 L350.3 199.7 L350.4 199.1 L350.4 198.6 L350.4 198.0 L350.4 197.5 L350.5 197.0 L350.5 196.4 L350.5 195.9 L350.5 195.5 M351.0 185.4 L351.0 185.1 L351.0 184.5 L351.0 184.0 L351.0 183.4 L351.1 182.9 L351.1 182.4 L351.1 181.8 L351.1 181.3 L351.2 180.7 L351.2 180.2 L351.2 179.7 L351.2 179.1 L351.3 178.6 L351.3 178.0 L351.3 177.5 L351.3 177.0 L351.3 176.4 L351.4 175.9 L351.4 175.3 M351.8 165.2 L351.8 164.9 L351.8 164.4 L351.8 163.8 L351.9 163.3 L351.9 162.7 L351.9 162.2 L351.9 161.6 L352.0 161.1 L352.0 160.5 L352.0 160.0 L352.0 159.4 L352.0 158.9 L352.1 158.3 L352.1 157.8 L352.1 157.2 L352.1 156.7 L352.1 156.2 L352.2 155.6 L352.2 155.1 M352.6 145.0 L352.6 144.7 L352.6 144.1 L352.7 143.6 L352.7 143.0 L352.7 142.5 L352.7 141.9 L352.7 141.4 L352.8 140.8 L352.8 140.3 L352.8 139.7 L352.8 139.2 L352.8 138.6 L352.9 138.1 L352.9 137.5 L352.9 137.0 L352.9 136.4 L353.0 135.9 L353.0 135.3 L353.0 135.0 M353.4 124.9 L353.4 124.4 L353.4 123.8 L353.5 123.3 L353.5 122.7 L353.5 122.2 L353.5 121.6 L353.6 121.1 L353.6 120.5 L353.6 120.0 L353.6 119.5 L353.6 118.9 L353.7 118.4 L353.7 117.8 L353.7 117.3 L353.7 116.7 L353.8 116.2 L353.8 115.6 L353.8 115.1 L353.8 114.8 M354.3 104.7 L354.3 104.6 L354.3 104.1 L354.3 103.5 L354.3 103.0 L354.4 102.4 L354.4 101.9 L354.4 101.3 L354.4 100.8 L354.4 100.2 L354.5 99.7 L354.5 99.1 L354.5 98.6 L354.5 98.0 L354.6 97.5 L354.6 96.9 L354.6 96.4 L354.6 95.8 L354.7 95.3 L354.7 94.7 L354.7 94.6 M355.4 84.5 L355.4 84.2 L355.5 83.7 L355.5 83.1 L355.6 82.6 L355.6 82.0 L355.6 81.4 L355.7 80.9 L355.7 80.3 L355.8 79.8 L355.8 79.2 L355.9 78.7 L355.9 78.1 L356.0 77.6 L356.0 77.0 L356.0 76.4 L356.1 75.9 L356.1 75.3 L356.2 74.7 L356.2 74.5 M357.1 64.4 L357.1 64.0 L357.2 63.5 L357.3 63.0 L357.4 62.4 L357.4 61.9 L357.5 61.4 L357.6 60.8 L357.6 60.3 L357.7 59.8 L357.8 59.2 L357.9 58.7 L357.9 58.2 L358.0 57.6 L358.1 57.1 L358.2 56.6 L358.2 56.0 L358.3 55.5 L358.5 54.9 L358.6 54.4 M362.4 45.2 L362.5 45.0 L362.8 44.5 L363.3 44.2 L363.8 44.0 L364.3 43.7 L364.8 43.5 L365.3 43.2 L365.8 43.5 L366.2 43.8 L366.6 44.1 L367.1 44.4 L367.6 44.7 L368.0 45.0 L368.3 45.5 L368.7 45.9 L369.0 46.4 L369.3 46.8 L369.7 47.3 L369.9 47.6 M375.1 56.3 L375.1 56.3 L375.4 56.8 L375.6 57.3 L375.9 57.8 L376.2 58.3 L376.5 58.8 L376.8 59.2 L377.1 59.7 L377.4 60.2 L377.7 60.7 L378.0 61.2 L378.3 61.7 L378.6 62.1 L378.9 62.6 L379.2 63.1 L379.5 63.6 L379.8 64.1 L380.1 64.6 L380.3 64.9 M385.6 73.6 L385.7 73.8 L386.0 74.2 L386.3 74.7 L386.6 75.2 L386.9 75.6 L387.2 76.1 L387.5 76.5 L387.8 77.0 L388.1 77.4 L388.4 77.9 L388.7 78.3 L389.0 78.8 L389.3 79.2 L389.6 79.6 L389.9 80.1 L390.2 80.5 L390.5 81.0 L390.8 81.4 L391.1 81.9 L391.2 81.9 M396.9 90.3 L396.9 90.3 L397.2 90.8 L397.5 91.2 L397.8 91.6 L398.2 92.0 L398.5 92.5 L398.8 92.9 L399.1 93.3 L399.5 93.7 L399.8 94.2 L400.1 94.6 L400.4 95.0 L400.8 95.4 L401.1 95.9 L401.4 96.3 L401.7 96.7 L402.1 97.1 L402.4 97.5 L402.7 98.0 L403.0 98.3 M409.2 106.3 L409.2 106.4 L409.5 106.9 L409.9 107.3 L410.2 107.7 L410.6 108.1 L410.9 108.6 L411.3 109.0 L411.6 109.5 L412.0 109.9 L412.3 110.3 L412.7 110.8 L413.0 111.2 L413.4 111.7 L413.7 112.1 L414.1 112.5 L414.4 113.0 L414.8 113.4 L415.1 113.8 L415.5 114.2 M421.8 122.1 L421.8 122.2 L422.2 122.6 L422.5 123.1 L422.9 123.5 L423.3 123.9 L423.8 124.2 L424.2 124.6 L424.6 125.0 L425.0 125.3 L425.5 125.7 L425.9 126.1 L426.3 126.5 L426.8 126.8 L427.2 127.2 L427.6 127.6 L428.0 127.9 L428.5 128.3 L428.9 128.7 L429.2 128.9 M436.8 135.5 L437.0 135.7 L437.4 136.1 L437.9 136.4 L438.3 136.8 L438.7 137.2 L439.1 137.5 L439.5 137.9 L439.9 138.2 L440.3 138.6 L440.7 138.9 L441.1 139.2 L441.5 139.6 L441.9 140.0 L442.3 140.3 L442.8 140.7 L443.2 141.0 L443.6 141.3 L444.0 141.7 L444.4 142.1 L444.5 142.1 M452.1 148.7 L452.5 149.1 L452.9 149.4 L453.3 149.8 L453.7 150.1 L454.1 150.4 L454.5 150.8 L454.9 151.2 L455.3 151.5 L455.8 151.8 L456.2 152.1 L456.7 152.4 L457.2 152.7 L457.6 153.0 L458.1 153.3 L458.6 153.6 L459.0 153.9 L459.5 154.1 L460.0 154.4 L460.3 154.6 M468.8 160.0 L468.8 160.0 L469.3 160.3 L469.8 160.6 L470.2 160.9 L470.7 161.2 L471.2 161.5 L471.6 161.9 L472.1 162.2 L472.6 162.5 L473.0 162.9 L473.5 163.2 L474.0 163.5 L474.4 163.9 L474.9 164.2 L475.4 164.5 L475.8 164.9 L476.3 165.2 L476.8 165.5 L477.1 165.8 M485.3 171.7 L485.6 171.9 L486.1 172.2 L486.6 172.5 L487.0 172.9 L487.5 173.2 L487.9 173.5 L488.4 173.9 L488.8 174.2 L489.2 174.5 L489.6 174.9 L490.1 175.2 L490.5 175.5 L490.9 175.9 L491.4 176.2 L491.8 176.5 L492.2 176.9 L492.6 177.2 L493.1 177.5 L493.4 177.8 M501.3 184.0 L501.6 184.2 L502.0 184.5 L502.5 184.9 L502.9 185.2 L503.3 185.6 L503.7 186.0 L504.1 186.4 L504.5 186.7 L505.0 187.1 L505.4 187.5 L505.8 187.9 L506.2 188.3 L506.6 188.7 L507.0 189.1 L507.4 189.4 L507.8 189.8 L508.2 190.2 L508.7 190.6 L508.8 190.8 M516.2 197.7 L516.5 197.9 L516.9 198.3 L517.3 198.7 L517.7 199.1 L518.1 199.5 L518.5 199.9 L518.8 200.2 L519.2 200.6 L519.6 201.0 L520.0 201.4 L520.4 201.8 L520.7 202.1 L521.1 202.5 L521.5 202.9 L521.9 203.3 L522.3 203.7 L522.6 204.0 L523.0 204.4 L523.4 204.8 M530.5 211.9 L530.6 212.0 L531.0 212.4 L531.4 212.8 L531.7 213.1 L532.1 213.5 L532.5 213.9 L532.9 214.3 L533.2 214.7 L533.6 215.2 L533.9 215.6 L534.3 216.0 L534.6 216.4 L535.0 216.9 L535.3 217.3 L535.7 217.7 L536.0 218.1 L536.4 218.6 L536.7 219.0 L537.1 219.4 L537.2 219.5 M543.6 227.3 L543.8 227.5 L544.1 227.9 L544.5 228.3 L544.8 228.7 L545.2 229.2 L545.5 229.6 L545.9 230.0 L546.2 230.4 L546.6 230.9 L546.9 231.3 L547.3 231.7 L547.6 232.2 L547.9 232.6 L548.2 233.1 L548.5 233.5 L548.8 234.0 L549.1 234.4 L549.4 234.9 L549.7 235.3 L549.7 235.3 M555.2 243.8 L555.2 243.9 L555.5 244.3 L555.8 244.8 L556.1 245.2 L556.4 245.7 L556.7 246.1 L557.0 246.6 L557.3 247.1 L557.7 247.5 L558.0 248.0 L558.3 248.5 L558.7 248.9 L559.0 249.4 L559.3 249.9 L559.7 250.3 L560.0 250.8 L560.3 251.3 L560.7 251.7 L560.7 251.8 M565.7 258.7 L565.7 258.7 L566.0 259.2 L566.3 259.7 L566.7 260.1 L567.0 260.6 L567.4 261.1 L567.7 261.6 L568.0 262.0 L568.4 262.5 L568.7 263.0 L569.1 263.4 L569.4 263.9 L569.7 264.4 L570.1 264.8 L570.4 265.3 L570.8 265.8 L570.8 265.8 M574.7 271.2 L574.9 271.4 L575.2 271.9 L575.5 272.4 L575.8 272.8 L576.2 273.3 L576.5 273.8 L576.8 274.3 L577.1 274.8 L577.4 275.2 L577.7 275.7 L578.0 276.2 L578.4 276.7 L578.7 277.1 L579.0 277.6 L579.0 277.7 M581.8 281.9 L581.8 281.9 L582.2 282.4 L582.5 282.8 L582.8 283.3 L583.2 283.8 L583.5 284.3 L583.9 284.8 L584.2 285.3 L584.6 285.8 L585.0 286.3 L585.3 286.8 L585.7 287.4 L585.9 287.7 M588.1 290.8 L588.2 290.9 L588.6 291.3 L589.0 291.8 L589.4 292.2 L589.8 292.7 L590.2 293.1 L590.6 293.5 L591.0 294.0 L591.4 294.4 L591.8 294.9 L592.2 295.3 L592.5 295.6 M594.1 297.5 L594.5 298.0 L595.0 298.4 L595.4 298.9 L595.8 299.3 L596.3 299.8 L596.7 300.3 L597.0 300.9 L597.4 301.4 L598.1 301.7 L598.1 301.7 M599.2 302.6 L599.4 302.8 L599.6 303.2 L599.9 303.7 L600.2 304.1 L600.6 304.5 L601.1 305.0 L601.7 305.4 L602.1 305.9 L602.5 306.3 L602.7 306.6 M603.1 307.1 L603.1 307.3 L603.3 307.8 L603.6 308.3 L603.8 308.9 L604.1 309.5 L604.3 310.0 L604.7 310.5 L605.0 311.0 L605.3 311.5 L605.3 311.5 M605.7 312.0 L606.3 312.4 L606.9 312.8 L607.2 313.2 L607.6 313.6 L608.0 314.0 L608.5 314.2 L609.1 314.4 L609.4 314.9 L609.5 315.1 M609.9 315.6 L610.1 315.9 L610.4 316.4 L610.7 316.9 L611.2 317.2 L611.7 317.5 L612.4 317.8 L612.9 318.2 L613.5 318.6 L613.6 318.7 M614.0 319.2 L614.3 319.5 L614.7 319.9 L615.1 320.3 L615.5 320.7 L615.9 321.1 L616.3 321.5 L616.6 321.9 L616.9 322.4 L617.2 322.9 L617.2 323.0 M617.2 323.0 L617.5 323.4 L618.1 323.4 L618.5 323.7 L619.0 324.0 L619.4 324.3 L619.9 324.6 L620.3 324.9 L620.8 325.2 L621.3 325.5 M621.3 325.5 L621.3 325.5 L621.8 325.8 L622.0 326.3 L622.2 326.8 L622.4 327.3 L623.0 327.4 L623.6 327.5 L624.3 327.6 L624.9 327.7 L625.1 327.9 M625.1 327.9 L625.3 328.1 L625.7 328.5 L626.1 328.9 L626.5 329.2 L627.0 329.5 L627.4 329.8 L627.8 330.1 L628.3 330.4 L628.7 330.7 L629.2 330.5 M629.2 330.5 L629.4 330.4 L630.2 330.6 L630.9 330.8 L631.4 331.0 L631.9 331.2 L632.5 331.4 L633.0 331.6 L633.4 332.0 L633.7 332.3 M633.7 332.3 L633.8 332.4 L634.3 332.8 L634.6 333.1 L635.0 333.4 L635.4 333.8 L635.8 334.1 L636.4 334.3 L637.1 334.5 L637.7 334.7 L637.9 334.7 M637.9 334.7 L638.3 334.8 L638.9 334.9 L639.6 335.1 L640.2 335.1 L640.7 335.1 L641.3 335.2 L641.9 335.2 L642.4 335.5 L642.8 335.6 M642.8 335.6 L642.9 335.7 L643.4 335.9 L643.9 336.2 L644.4 336.4 L644.9 336.6 L645.5 336.7 L646.1 336.8 L646.6 336.5 L647.2 336.2 L647.4 336.1 M647.4 336.1 L647.7 335.9 L648.3 336.0 L648.9 336.0 L649.5 336.1 L650.1 336.1 L650.5 335.9 L651.0 335.8 L651.5 335.6" fill="none" stroke="#4fe878" stroke-width="3.4" stroke-linejoin="round"/>
<path d="M612.4 317.8 L613.5 318.6 L615.1 320.3 L616.3 321.5 L617.5 323.4 L618.1 323.4 L620.3 324.9 L621.8 325.8 L622.4 327.3 L624.9 327.7 L626.1 328.9 L628.7 330.7 L629.4 330.4 L630.9 330.8 L633.0 331.6 L634.3 332.8 L635.8 334.1 L637.7 334.7 L639.6 335.1 L641.9 335.2 L644.9 336.6 L646.1 336.8 L647.7 335.9 L650.1 336.1 L651.5 335.6" fill="none" stroke="#4fe878" stroke-width="4.3" stroke-linejoin="round" stroke-linecap="round"/>
</svg>
</body></html>
